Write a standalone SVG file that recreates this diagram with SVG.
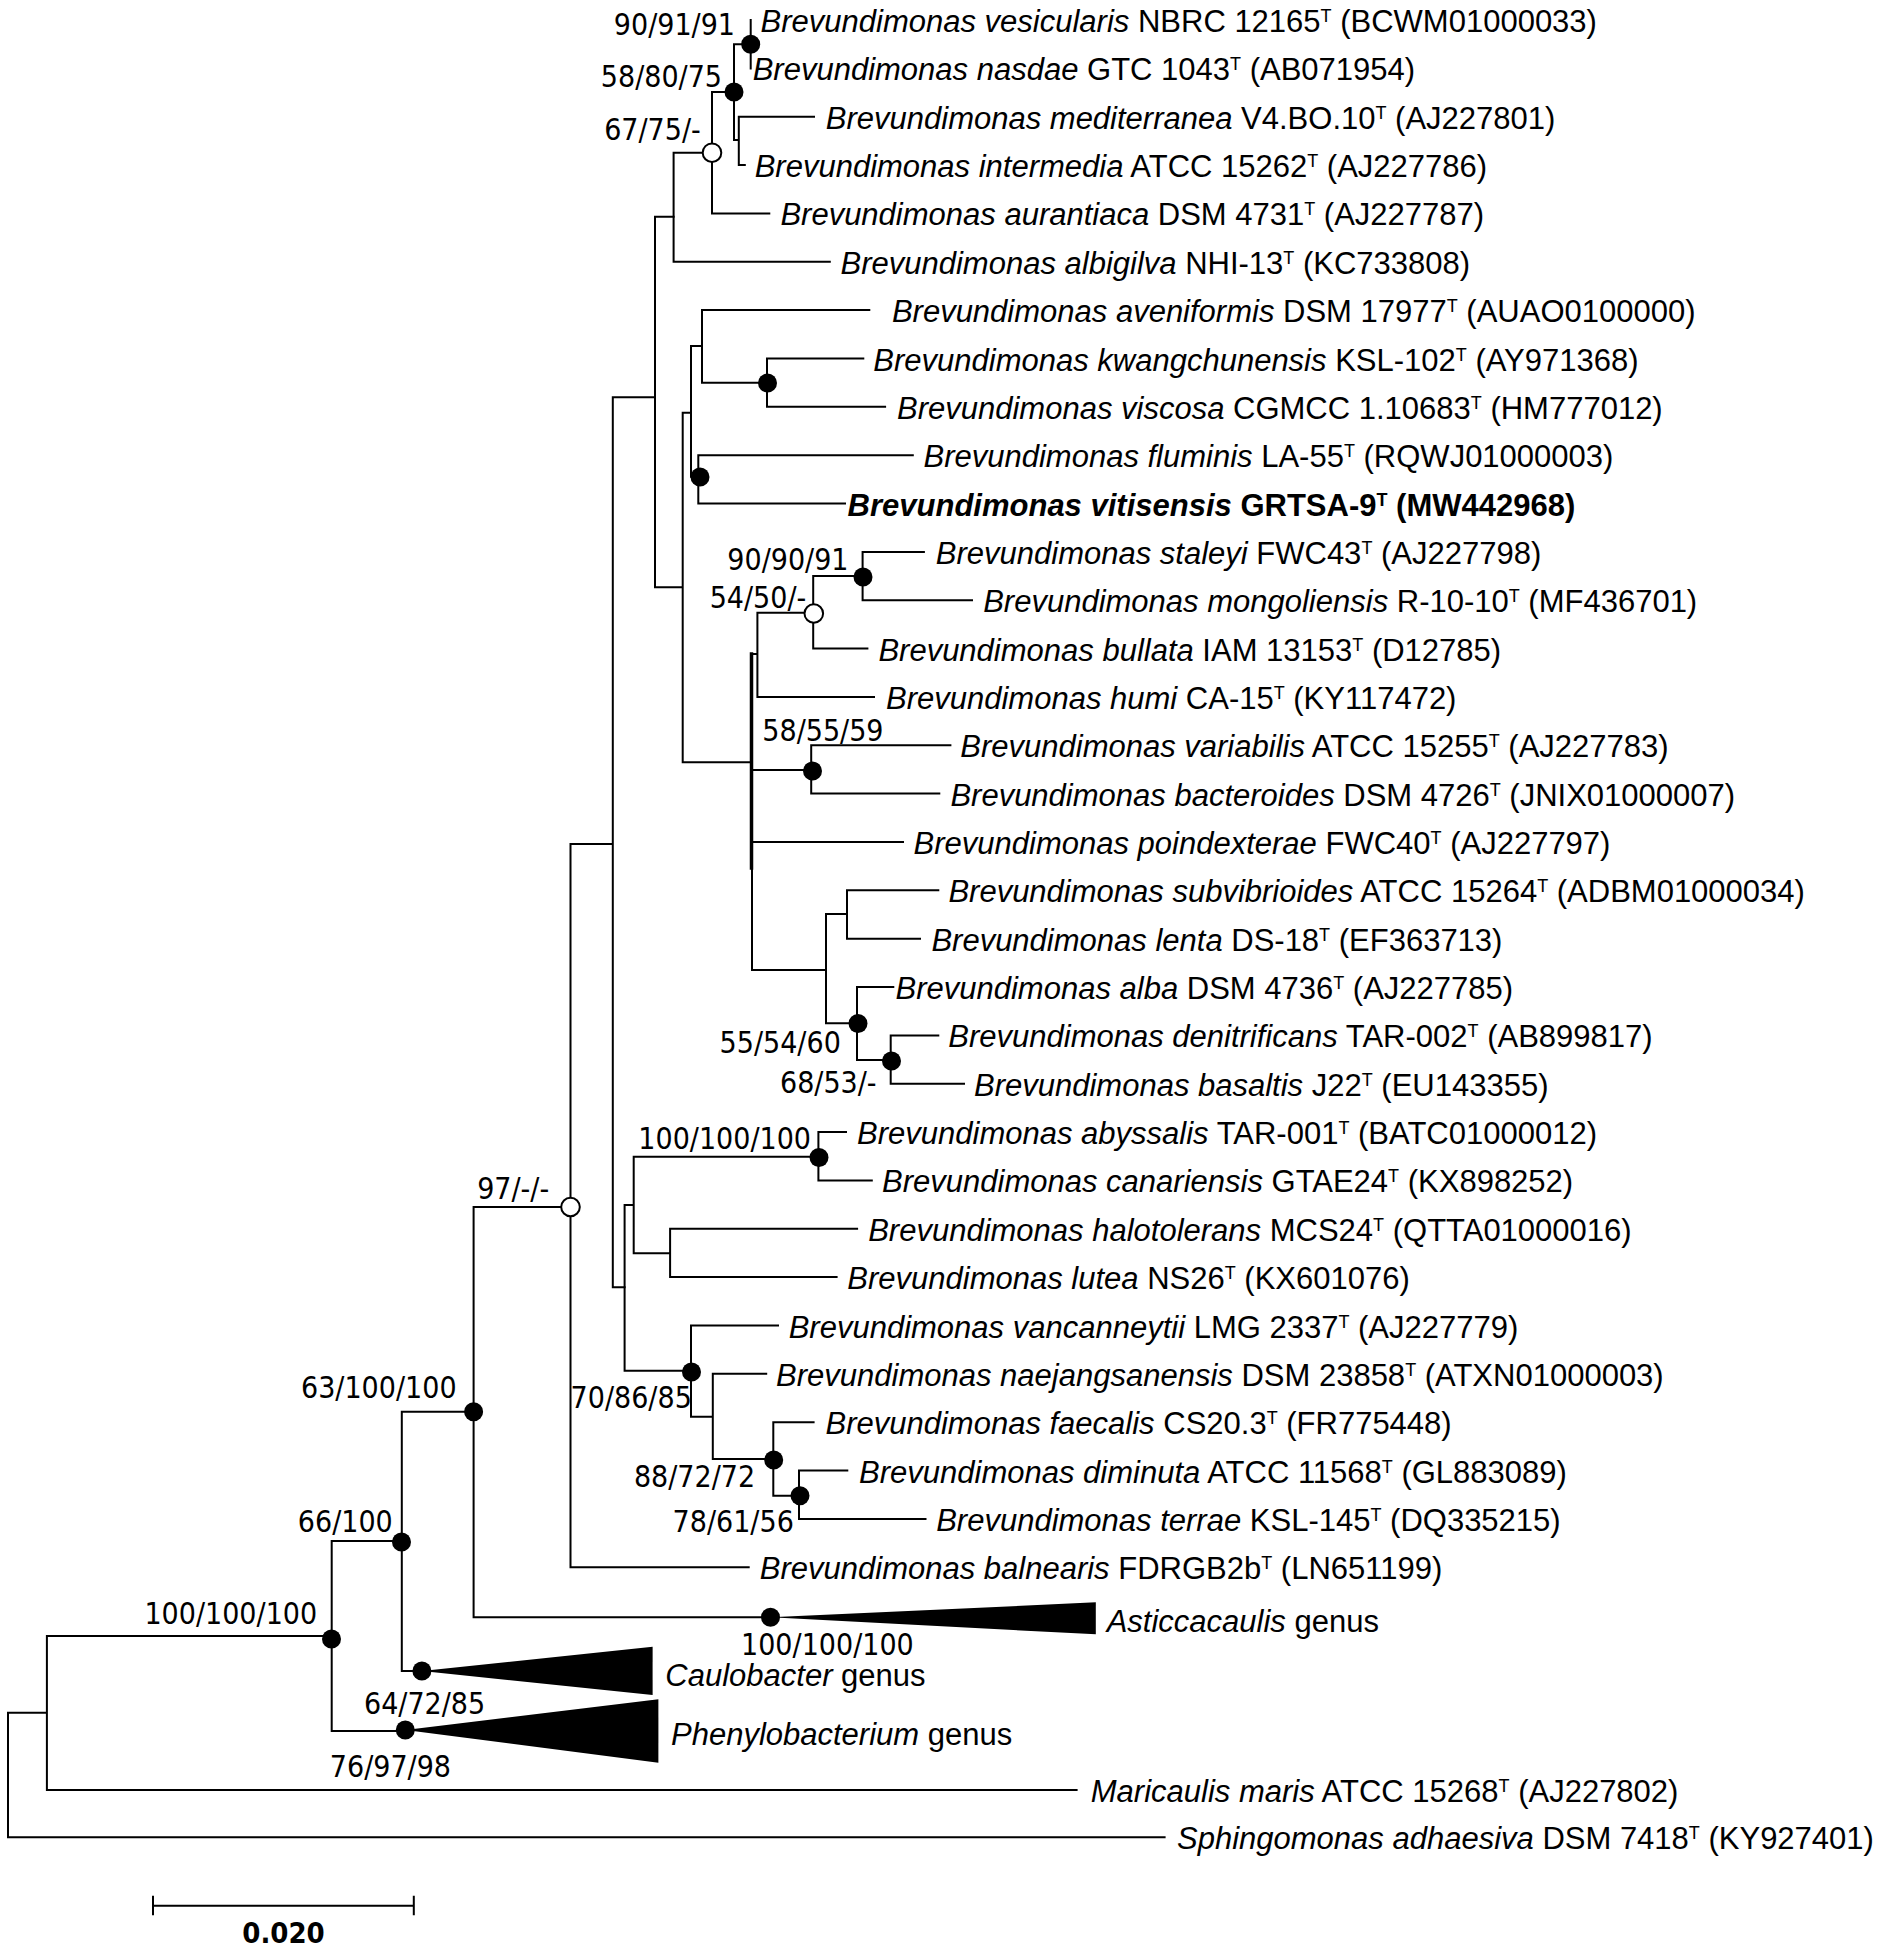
<svg xmlns="http://www.w3.org/2000/svg" width="1890" height="1952" viewBox="0 0 1890 1952">
<style>
.c{fill:none;stroke:#000;stroke-width:2;stroke-linecap:square}
.t{font-family:"Liberation Sans",Arial,sans-serif;font-size:31px;fill:#000}
.i{font-style:italic}
.b{font-weight:bold}
.s{font-size:18px}
.l{font-family:"DejaVu Sans Condensed","DejaVu Sans",sans-serif;font-stretch:condensed;font-size:30px;fill:#000;text-anchor:middle}
.f{fill:#000}
.o{fill:#fff;stroke:#000;stroke-width:2}
</style>
<rect width="1890" height="1952" fill="#fff"/>
<g id="connectors" class="c">
<path d="M750.7 20V68.4M734 44.3H750.7M734 44.3V140M734 140H738.8M738.8 116.7V165.1M738.8 116.7H814M738.8 165.1H744.8"/>
<path d="M712 92V213.4M712 92H734M712 213.4H769.3M673.6 152.7V261.8M673.6 152.7H712M673.6 261.8H829.8"/>
<path d="M655 216.7V587.3M655 216.7H673.6M655 587.3H682.7M682.7 412.7V762.3M682.7 412.7H691M682.7 762.3H752"/>
<path d="M691 346V476.7M691 346H702M691 476.7H698.3M702 310.1V382.7M702 310.1H869.3M702 382.7H767M767 358.5V406.8M767 358.5H863.3M767 406.8H885.1M698.3 455.2V503.5M698.3 455.2H912.8M698.3 503.5H845"/>
<path d="M752 654V970M752 654H757.4M757.4 612.7V696.9M757.4 612.7H813.2M757.4 696.9H874M813.2 576V648.6M813.2 576H862.6M813.2 648.6H867.4M862.6 551.9V600.2M862.6 551.9H923.9M862.6 600.2H972"/>
<path d="M752 770H811.2M811.2 745.3V793.6M811.2 745.3H950.4M811.2 793.6H939.3M752 842H903"/>
<path d="M752 970H826M826 914V1023.3M826 914H847M826 1023.3H857M847 890.3V938.7M847 890.3H938.3M847 938.7H920M857 987V1060M857 987H893.3M857 1060H890.7M890.7 1035.4V1083.7M890.7 1035.4H938.3M890.7 1083.7H964"/>
<path d="M612.8 397.3V1287.3M612.8 397.3H655M612.8 1287.3H624.6M570.5 844V1567.2M570.5 844H612.8M570.5 1567.2H748.7"/>
<path d="M624.6 1205V1370.7M624.6 1205H633.7M624.6 1370.7H691M633.7 1156.7V1253.3M633.7 1156.7H818.4M633.7 1253.3H670.1M818.4 1132.1V1180.4M818.4 1132.1H846M818.4 1180.4H871.8M670.1 1228.8V1277.1M670.1 1228.8H857.1M670.1 1277.1H836.6"/>
<path d="M691 1325.5V1416.7M691 1325.5H778M691 1416.7H712.8M712.8 1373.8V1459M712.8 1373.8H766.2M712.8 1459H773.3M773.3 1422.2V1495.7M773.3 1422.2H813.6M773.3 1495.7H799M799 1470.5V1518.9M799 1470.5H847.3M799 1518.9H925.5"/>
<path d="M473.6 1207V1617.3M473.6 1207H570.5M473.6 1617.3H770.5M401.8 1411.7V1671M401.8 1411.7H473.6M401.8 1671H421.9M331.7 1541V1731M331.7 1541H401.8M331.7 1731H405.3"/>
<path d="M46.9 1636V1790M46.9 1636H331.7M46.9 1790H1076.6M8 1712.7V1837.3M8 1712.7H46.9M8 1837.3H1164.6"/>
<path d="M751.5 654V868" stroke-width="3.5"/>
</g>
<g id="collapsed">
<polygon class="f" points="770.5,1617.3 1095.8,1602.3 1095.8,1634.3"/>
<polygon class="f" points="421.9,1671 652.6,1646.7 652.6,1695"/>
<polygon class="f" points="405.3,1730 658.4,1699.3 658.4,1762.7"/>
</g>
<g id="node-v1"><circle class="f" cx="750.7" cy="44.3" r="9.5"/><text class="l" x="674.4" y="35">90/91/91</text></g>
<g id="node-n2"><circle class="f" cx="734" cy="92" r="9.5"/><text class="l" x="661.4" y="86.7">58/80/75</text></g>
<g id="node-n4"><circle class="o" cx="712" cy="152.7" r="9.3"/><text class="l" x="652.5" y="140">67/75/-</text></g>
<g id="node-n10"><circle class="f" cx="767.5" cy="383" r="9.5"/></g>
<g id="node-n11"><circle class="f" cx="700" cy="477" r="9.5"/></g>
<g id="node-n13"><circle class="f" cx="863" cy="577" r="9.5"/><text class="l" x="787.9" y="570">90/90/91</text></g>
<g id="node-n14"><circle class="o" cx="813.8" cy="613.5" r="9.3"/><text class="l" x="758" y="608.3">54/50/-</text></g>
<g id="node-n16"><circle class="f" cx="812.5" cy="771" r="9.5"/><text class="l" x="822.9" y="740.7">58/55/59</text></g>
<g id="node-n19"><circle class="f" cx="858" cy="1023.5" r="9.5"/><text class="l" x="780.2" y="1053.3">55/54/60</text></g>
<g id="node-n20"><circle class="f" cx="891.5" cy="1061" r="9.5"/><text class="l" x="828.3" y="1093.3">68/53/-</text></g>
<g id="node-n25"><circle class="f" cx="819" cy="1157.5" r="9.5"/><text class="l" x="724.7" y="1149.3">100/100/100</text></g>
<g id="node-n21"><circle class="o" cx="570.5" cy="1207" r="9.3"/><text class="l" x="513.2" y="1199">97/-/-</text></g>
<g id="node-n27"><circle class="f" cx="691.5" cy="1372" r="9.5"/><text class="l" x="631.2" y="1408.3">70/86/85</text></g>
<g id="node-n29"><circle class="f" cx="773.7" cy="1460" r="9.5"/><text class="l" x="694.5" y="1487.3">88/72/72</text></g>
<g id="node-n30"><circle class="f" cx="800" cy="1495.7" r="9.5"/><text class="l" x="733.2" y="1531.7">78/61/56</text></g>
<g id="node-n31"><circle class="f" cx="473.6" cy="1411.7" r="9.5"/><text class="l" x="378.8" y="1398.3">63/100/100</text></g>
<g id="node-n32"><circle class="f" cx="401.5" cy="1542" r="9.5"/><text class="l" x="345.3" y="1531.7">66/100</text></g>
<g id="node-n33"><circle class="f" cx="331.5" cy="1639" r="9.5"/><text class="l" x="230.8" y="1624">100/100/100</text></g>
<g id="node-asticcacaulis"><circle class="f" cx="770.5" cy="1617.3" r="9.5"/><text class="l" x="827.4" y="1654.5">100/100/100</text><text class="t" x="1106.7" y="1631.7"><tspan class="i">Asticcacaulis</tspan> genus</text></g>
<g id="node-caulobacter"><circle class="f" cx="421.9" cy="1671" r="9.5"/><text class="t" x="665.3" y="1686"><tspan class="i">Caulobacter</tspan> genus</text></g>
<g id="node-phenylobacterium"><circle class="f" cx="405.3" cy="1730" r="9.5"/><text class="l" x="424.6" y="1714">64/72/85</text><text class="l" x="390.4" y="1776.7">76/97/98</text><text class="t" x="671" y="1745"><tspan class="i">Phenylobacterium</tspan> genus</text></g>
<g id="leaf-vesicularis"><text class="t" x="760.6" y="32"><tspan class="i">Brevundimonas vesicularis</tspan> NBRC 12165<tspan class="s" dy="-10">T</tspan><tspan dy="10"> (BCWM01000033)</tspan></text></g>
<g id="leaf-nasdae"><text class="t" x="752.7" y="80.4"><tspan class="i">Brevundimonas nasdae</tspan> GTC 1043<tspan class="s" dy="-10">T</tspan><tspan dy="10"> (AB071954)</tspan></text></g>
<g id="leaf-mediterranea"><text class="t" x="825.8" y="128.7"><tspan class="i">Brevundimonas mediterranea</tspan> V4.BO.10<tspan class="s" dy="-10">T</tspan><tspan dy="10"> (AJ227801)</tspan></text></g>
<g id="leaf-intermedia"><text class="t" x="754.7" y="177.1"><tspan class="i">Brevundimonas intermedia</tspan> ATCC 15262<tspan class="s" dy="-10">T</tspan><tspan dy="10"> (AJ227786)</tspan></text></g>
<g id="leaf-aurantiaca"><text class="t" x="780.4" y="225.4"><tspan class="i">Brevundimonas aurantiaca</tspan> DSM 4731<tspan class="s" dy="-10">T</tspan><tspan dy="10"> (AJ227787)</tspan></text></g>
<g id="leaf-albigilva"><text class="t" x="840.5" y="273.8"><tspan class="i">Brevundimonas albigilva</tspan> NHI-13<tspan class="s" dy="-10">T</tspan><tspan dy="10"> (KC733808)</tspan></text></g>
<g id="leaf-aveniformis"><text class="t" x="891.9" y="322.1"><tspan class="i">Brevundimonas aveniformis</tspan> DSM 17977<tspan class="s" dy="-10">T</tspan><tspan dy="10"> (AUAO0100000)</tspan></text></g>
<g id="leaf-kwangchunensis"><text class="t" x="873.3" y="370.5"><tspan class="i">Brevundimonas kwangchunensis</tspan> KSL-102<tspan class="s" dy="-10">T</tspan><tspan dy="10"> (AY971368)</tspan></text></g>
<g id="leaf-viscosa"><text class="t" x="897" y="418.8"><tspan class="i">Brevundimonas viscosa</tspan> CGMCC 1.10683<tspan class="s" dy="-10">T</tspan><tspan dy="10"> (HM777012)</tspan></text></g>
<g id="leaf-fluminis"><text class="t" x="923.5" y="467.2"><tspan class="i">Brevundimonas fluminis</tspan> LA-55<tspan class="s" dy="-10">T</tspan><tspan dy="10"> (RQWJ01000003)</tspan></text></g>
<g id="leaf-vitisensis"><text class="t b" x="847.6" y="515.5"><tspan class="i">Brevundimonas vitisensis</tspan> GRTSA-9<tspan class="s" dy="-10">T</tspan><tspan dy="10"> (MW442968)</tspan></text></g>
<g id="leaf-staleyi"><text class="t" x="935.8" y="563.9"><tspan class="i">Brevundimonas staleyi</tspan> FWC43<tspan class="s" dy="-10">T</tspan><tspan dy="10"> (AJ227798)</tspan></text></g>
<g id="leaf-mongoliensis"><text class="t" x="983.2" y="612.2"><tspan class="i">Brevundimonas mongoliensis</tspan> R-10-10<tspan class="s" dy="-10">T</tspan><tspan dy="10"> (MF436701)</tspan></text></g>
<g id="leaf-bullata"><text class="t" x="878.4" y="660.6"><tspan class="i">Brevundimonas bullata</tspan> IAM 13153<tspan class="s" dy="-10">T</tspan><tspan dy="10"> (D12785)</tspan></text></g>
<g id="leaf-humi"><text class="t" x="886" y="708.9"><tspan class="i">Brevundimonas humi</tspan> CA-15<tspan class="s" dy="-10">T</tspan><tspan dy="10"> (KY117472)</tspan></text></g>
<g id="leaf-variabilis"><text class="t" x="960.3" y="757.3"><tspan class="i">Brevundimonas variabilis</tspan> ATCC 15255<tspan class="s" dy="-10">T</tspan><tspan dy="10"> (AJ227783)</tspan></text></g>
<g id="leaf-bacteroides"><text class="t" x="950.4" y="805.6"><tspan class="i">Brevundimonas bacteroides</tspan> DSM 4726<tspan class="s" dy="-10">T</tspan><tspan dy="10"> (JNIX01000007)</tspan></text></g>
<g id="leaf-poindexterae"><text class="t" x="913.6" y="854"><tspan class="i">Brevundimonas poindexterae</tspan> FWC40<tspan class="s" dy="-10">T</tspan><tspan dy="10"> (AJ227797)</tspan></text></g>
<g id="leaf-subvibrioides"><text class="t" x="948.4" y="902.3"><tspan class="i">Brevundimonas subvibrioides</tspan> ATCC 15264<tspan class="s" dy="-10">T</tspan><tspan dy="10"> (ADBM01000034)</tspan></text></g>
<g id="leaf-lenta"><text class="t" x="931.4" y="950.7"><tspan class="i">Brevundimonas lenta</tspan> DS-18<tspan class="s" dy="-10">T</tspan><tspan dy="10"> (EF363713)</tspan></text></g>
<g id="leaf-alba"><text class="t" x="895.5" y="999"><tspan class="i">Brevundimonas alba</tspan> DSM 4736<tspan class="s" dy="-10">T</tspan><tspan dy="10"> (AJ227785)</tspan></text></g>
<g id="leaf-denitrificans"><text class="t" x="948.3" y="1047.4"><tspan class="i">Brevundimonas denitrificans</tspan> TAR-002<tspan class="s" dy="-10">T</tspan><tspan dy="10"> (AB899817)</tspan></text></g>
<g id="leaf-basaltis"><text class="t" x="974" y="1095.7"><tspan class="i">Brevundimonas basaltis</tspan> J22<tspan class="s" dy="-10">T</tspan><tspan dy="10"> (EU143355)</tspan></text></g>
<g id="leaf-abyssalis"><text class="t" x="857.1" y="1144.1"><tspan class="i">Brevundimonas abyssalis</tspan> TAR-001<tspan class="s" dy="-10">T</tspan><tspan dy="10"> (BATC01000012)</tspan></text></g>
<g id="leaf-canariensis"><text class="t" x="882.1" y="1192.4"><tspan class="i">Brevundimonas canariensis</tspan> GTAE24<tspan class="s" dy="-10">T</tspan><tspan dy="10"> (KX898252)</tspan></text></g>
<g id="leaf-halotolerans"><text class="t" x="868.2" y="1240.8"><tspan class="i">Brevundimonas halotolerans</tspan> MCS24<tspan class="s" dy="-10">T</tspan><tspan dy="10"> (QTTA01000016)</tspan></text></g>
<g id="leaf-lutea"><text class="t" x="847.3" y="1289.1"><tspan class="i">Brevundimonas lutea</tspan> NS26<tspan class="s" dy="-10">T</tspan><tspan dy="10"> (KX601076)</tspan></text></g>
<g id="leaf-vancanneytii"><text class="t" x="788.7" y="1337.5"><tspan class="i">Brevundimonas vancanneytii</tspan> LMG 2337<tspan class="s" dy="-10">T</tspan><tspan dy="10"> (AJ227779)</tspan></text></g>
<g id="leaf-naejangsanensis"><text class="t" x="776.1" y="1385.8"><tspan class="i">Brevundimonas naejangsanensis</tspan> DSM 23858<tspan class="s" dy="-10">T</tspan><tspan dy="10"> (ATXN01000003)</tspan></text></g>
<g id="leaf-faecalis"><text class="t" x="825.5" y="1434.2"><tspan class="i">Brevundimonas faecalis</tspan> CS20.3<tspan class="s" dy="-10">T</tspan><tspan dy="10"> (FR775448)</tspan></text></g>
<g id="leaf-diminuta"><text class="t" x="859.1" y="1482.5"><tspan class="i">Brevundimonas diminuta</tspan> ATCC 11568<tspan class="s" dy="-10">T</tspan><tspan dy="10"> (GL883089)</tspan></text></g>
<g id="leaf-terrae"><text class="t" x="936.2" y="1530.9"><tspan class="i">Brevundimonas terrae</tspan> KSL-145<tspan class="s" dy="-10">T</tspan><tspan dy="10"> (DQ335215)</tspan></text></g>
<g id="leaf-balnearis"><text class="t" x="759.8" y="1579.2"><tspan class="i">Brevundimonas balnearis</tspan> FDRGB2b<tspan class="s" dy="-10">T</tspan><tspan dy="10"> (LN651199)</tspan></text></g>
<g id="leaf-maricaulis"><text class="t" x="1090.8" y="1801.7"><tspan class="i">Maricaulis maris</tspan> ATCC 15268<tspan class="s" dy="-10">T</tspan><tspan dy="10"> (AJ227802)</tspan></text></g>
<g id="leaf-sphingomonas"><text class="t" x="1177" y="1849"><tspan class="i">Sphingomonas adhaesiva</tspan> DSM 7418<tspan class="s" dy="-10">T</tspan><tspan dy="10"> (KY927401)</tspan></text></g>
<g id="scale-bar">
<path class="c" d="M153 1905.7H413.8M153 1896.7V1914.3M413.8 1896.7V1914.3"/>
<text class="l" x="283.5" y="1943" style="font-weight:bold;font-size:29px">0.020</text>
</g>
</svg>
